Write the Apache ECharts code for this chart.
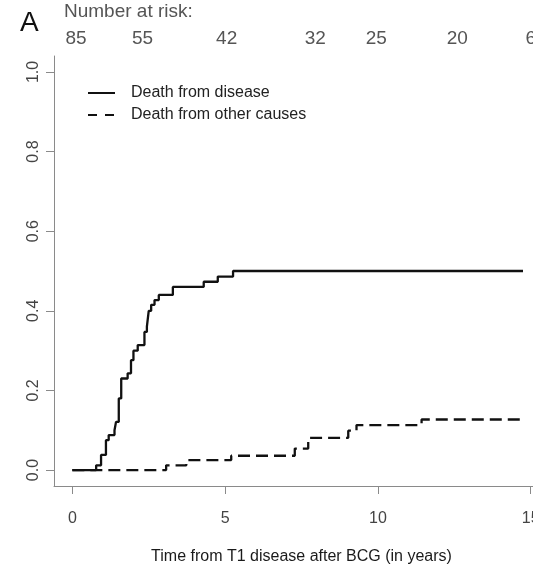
<!DOCTYPE html>
<html>
<head>
<meta charset="utf-8">
<script src="https://cdn.jsdelivr.net/npm/echarts@6/dist/echarts.min.js"></script>
<style>
html,body{margin:0;padding:0;background:#fff;}
#c{width:533px;height:566px;}
</style>
</head>
<body>
<div id="c"></div>
<script>
// ---- data ----
var diseaseTimes  = [0, 0.78, 0.94, 1.10, 1.19, 1.38, 1.43, 1.52, 1.60, 1.81, 1.92, 2.00, 2.14, 2.36, 2.44, 2.50, 2.58, 2.69, 2.83, 3.29, 4.30, 4.76, 5.26, 14.75];
var diseaseValues = [0, 0.012, 0.038, 0.075, 0.088, 0.100, 0.121, 0.180, 0.230, 0.243, 0.276, 0.300, 0.314, 0.347, 0.360, 0.400, 0.415, 0.427, 0.440, 0.460, 0.473, 0.486, 0.500, 0.500];
var otherTimes  = [0, 3.07, 3.73, 5.20, 7.28, 7.72, 9.03, 9.30, 11.43, 14.66];
var otherValues = [0, 0.012, 0.025, 0.036, 0.054, 0.081, 0.099, 0.113, 0.127, 0.127];
var seriesNames = ['Death from disease', 'Death from other causes'];
var xTicks = [0, 5, 10, 15];
var yTicks = [0, 0.2, 0.4, 0.6, 0.8, 1.0];
var riskTimes  = [0.12, 2.3, 5.05, 7.95, 9.95, 12.6, 15.0];
var riskCounts = [85, 55, 42, 32, 25, 20, 6];
var xTitle = 'Time from T1 disease after BCG (in years)';
var panelLabel = 'A';
var riskTitle = 'Number at risk:';

function zip(a, b) { return a.map(function (v, i) { return [v, b[i]]; }); }

var FONT = "'Liberation Sans', Arial, Helvetica, sans-serif";
var chart = echarts.init(document.getElementById('c'), null, {renderer: 'canvas'});

var option = {
  animation: false,
  backgroundColor: '#fff',
  textStyle: {fontFamily: FONT},
  grid: {left: 54, top: 56, width: 495, height: 430, containLabel: false, outerBoundsMode: 'none'},
  legend: {
    orient: 'vertical',
    left: 87, top: 85, padding: 0,
    itemWidth: 27, itemHeight: 14, itemGap: 6,
    itemStyle: {opacity: 0},
    lineStyle: {width: 2},
    textStyle: {fontSize: 16, color: '#222', fontFamily: FONT, padding: [0, 0, 0, 11]},
    data: [
      {name: seriesNames[0]},
      {name: seriesNames[1], lineStyle: {type: [9, 8]}}
    ]
  },
  xAxis: {
    type: 'value', min: -0.6, max: 15.6,
    axisLine: {show: true, onZero: false, lineStyle: {color: '#8a8a8a', width: 1}},
    axisTick: {show: true, length: 8, customValues: xTicks, lineStyle: {color: '#8a8a8a'}},
    axisLabel: {customValues: xTicks, margin: 25, fontSize: 16, color: '#444', fontFamily: FONT},
    splitLine: {show: false},
    name: xTitle, nameLocation: 'middle', nameGap: 63,
    nameTextStyle: {fontSize: 16, color: '#1a1a1a', fontFamily: FONT}
  },
  yAxis: {
    type: 'value', min: -0.04, max: 1.04,
    axisLine: {show: true, onZero: false, lineStyle: {color: '#8a8a8a', width: 1}},
    axisTick: {show: true, length: 8, customValues: yTicks, lineStyle: {color: '#8a8a8a'}},
    axisLabel: {customValues: yTicks, rotate: 90, margin: 12, fontSize: 16, color: '#444', fontFamily: FONT,
      formatter: function (v) { return v.toFixed(1); }},
    splitLine: {show: false}
  },
  series: [
    {name: seriesNames[0], type: 'line', step: 'end', symbol: 'none', showSymbol: false,
     data: zip(diseaseTimes, diseaseValues),
     lineStyle: {color: '#111', width: 2.3, type: 'solid'}, itemStyle: {color: '#111'}},
    {name: seriesNames[1], type: 'line', step: 'end', symbol: 'none', showSymbol: false,
     data: zip(otherTimes, otherValues),
     lineStyle: {color: '#111', width: 2.3, type: [12, 6]}, itemStyle: {color: '#111'}}
  ]
};
chart.setOption(option);

var g = [];
g.push({type: 'text', x: 20, y: 23, style: {text: panelLabel, font: '28px ' + FONT, fill: '#111',
  align: 'left', verticalAlign: 'middle', textAlign: 'left', textVerticalAlign: 'middle'}});
g.push({type: 'text', x: 64, y: 12, style: {text: riskTitle, font: '19px ' + FONT, fill: '#555',
  align: 'left', verticalAlign: 'middle', textAlign: 'left', textVerticalAlign: 'middle'}});
riskCounts.forEach(function (n, i) {
  var px = chart.convertToPixel({xAxisIndex: 0}, riskTimes[i]);
  g.push({type: 'text', x: px, y: 39, style: {text: String(n), font: '19px ' + FONT, fill: '#555',
    align: 'center', verticalAlign: 'middle', textAlign: 'center', textVerticalAlign: 'middle'}});
});
chart.setOption({graphic: g});
</script>
</body>
</html>
